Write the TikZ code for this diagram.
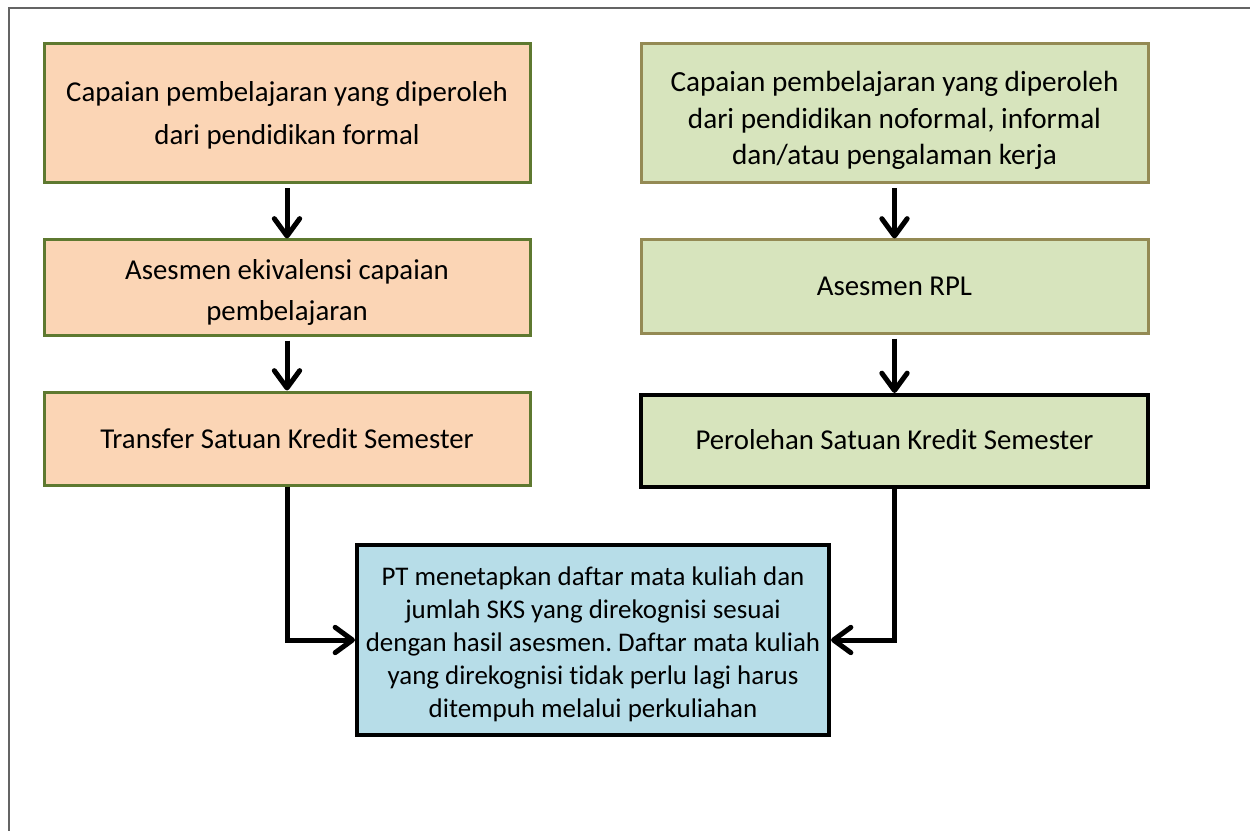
\documentclass[tikz,border=0pt]{standalone}
\usepackage{fontspec}
\setmainfont{Carlito}[Ligatures=NoCommon]
\usetikzlibrary{arrows.meta}

\definecolor{peach}{RGB}{251,213,181}
\definecolor{peachline}{RGB}{94,121,48}
\definecolor{sage}{RGB}{215,228,189}
\definecolor{sageline}{RGB}{148,138,84}
\definecolor{aqua}{RGB}{183,221,232}
\definecolor{framegray}{RGB}{100,100,100}

\newcommand{\dropline}[1]{\rule{0pt}{#1}}

\tikzset{every picture/.style={line width=0.75pt}}
\tikzset{
  flowbox/.style={align=center, inner sep=0pt, font=\fontsize{21.6}{32}\selectfont\frenchspacing},
  formalbox/.style={flowbox, draw=peachline, fill=peach, line width=2.25pt},
  rplbox/.style={flowbox, draw=sageline, fill=sage, line width=2.25pt},
  resultbox/.style={flowbox, draw=black, line width=3pt},
  flowarrow/.style={line width=3.75pt, -{Straight Barb[length=13pt,width=19pt,round]}}
}

\begin{document}
\begin{tikzpicture}[x=0.75pt,y=0.75pt,yscale=-1,xscale=1]
\useasboundingbox (0,0) rectangle (1250,831);

%Shape: Frame
\draw [color=framegray, line width=1.5pt] (1250,8.5) -- (8.5,8.5) -- (8.5,831) ;

%Shape: Rectangle [left column]
\node [formalbox, minimum width=364.5pt, minimum height=104.25pt, font=\fontsize{21.6}{32.25}\selectfont\frenchspacing] (formal) at (287,113.5) {\dropline{17pt}Capaian pembelajaran yang diperoleh\\dari pendidikan formal};
\node [formalbox, minimum width=364.5pt, minimum height=71.25pt, font=\fontsize{21.6}{30.75}\selectfont\frenchspacing] (ekivalensi) at (287,287.5) {\dropline{22.3pt}Asesmen ekivalensi capaian\\pembelajaran};
\node [formalbox, minimum width=364.5pt, minimum height=69.75pt] (transfer) at (287,438.5) {Transfer Satuan Kredit Semester};

%Shape: Rectangle [right column]
\node [rplbox, minimum width=380.25pt, minimum height=104.25pt, font=\fontsize{21.9}{27.4}\selectfont\frenchspacing] (nonformal) at (894.5,113.5) {\dropline{26pt}Capaian pembelajaran yang diperoleh\\dari pendidikan noformal, informal\\dan/atau pengalaman kerja};
\node [rplbox, minimum width=380.25pt, minimum height=69.75pt] (rpl) at (894.5,286.5) {Asesmen RPL};
\node [resultbox, fill=sage, minimum width=380.25pt, minimum height=69pt] (perolehan) at (894.5,441) {\raisebox{2pt}{Perolehan Satuan Kredit Semester}};

%Shape: Rectangle [result]
\node [resultbox, fill=aqua, minimum width=354pt, minimum height=142.5pt, font=\fontsize{20.2}{24.75}\selectfont\frenchspacing] (daftar) at (593,640) {\dropline{20pt}PT menetapkan daftar mata kuliah dan\\jumlah SKS yang direkognisi sesuai\\dengan hasil asesmen. Daftar mata kuliah\\yang direkognisi tidak perlu lagi harus\\ditempuh melalui perkuliahan};

%Straight Lines
\draw [flowarrow, shorten <=3pt] (formal) -- (ekivalensi) ;
\draw [flowarrow, shorten <=3pt] (ekivalensi) -- (transfer) ;
\draw [flowarrow, shorten <=3pt] (nonformal) -- (rpl) ;
\draw [flowarrow, shorten <=3pt] (rpl) -- (perolehan) ;

%Elbow Lines
\draw [flowarrow] (transfer.south) |- (daftar.west) ;
\draw [flowarrow] (perolehan.south) |- (daftar.east) ;

\end{tikzpicture}
\end{document}
